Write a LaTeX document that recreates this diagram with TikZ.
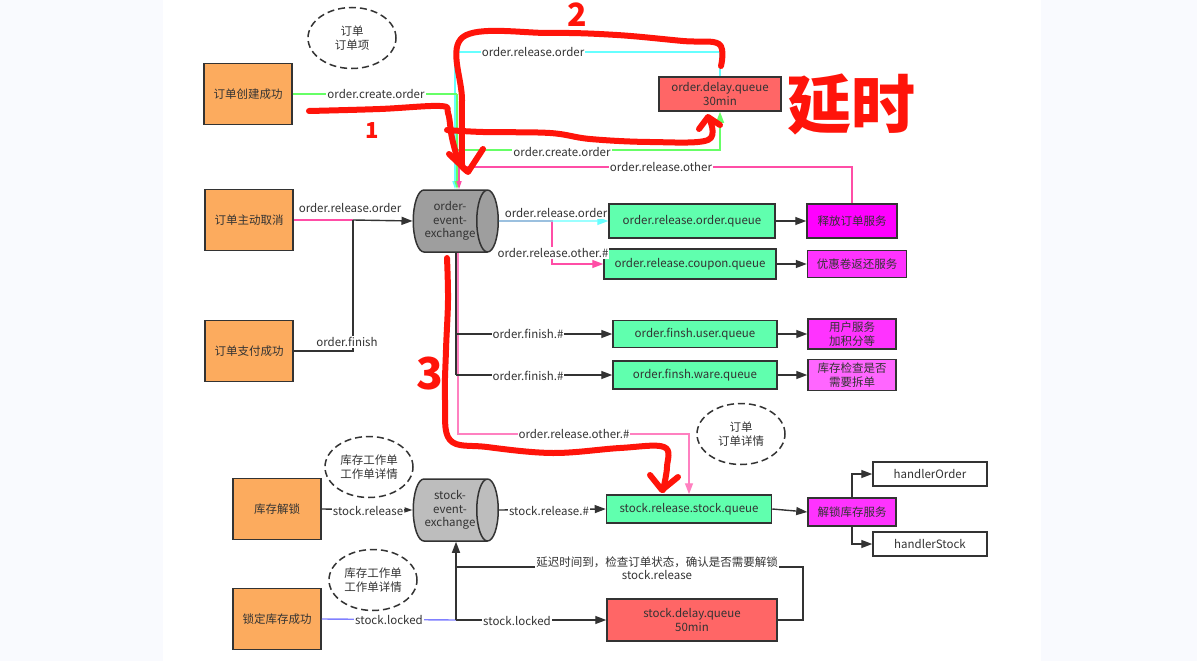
\documentclass[tikz,border=0pt]{standalone}
\usepackage{fontspec}
\setmainfont{Noto Sans CJK SC}
\usetikzlibrary{shapes.geometric,arrows.meta,calc}
\definecolor{panelbg}{RGB}{249,250,254}
\definecolor{linegray}{RGB}{51,51,51}
\definecolor{boxorange}{RGB}{252,171,94}
\definecolor{queuegreen}{RGB}{96,255,174}
\definecolor{queuered}{RGB}{255,102,102}
\definecolor{svcmag}{RGB}{255,0,255}
\definecolor{svcmagb}{RGB}{255,51,255}
\definecolor{svcmagc}{RGB}{255,102,255}
\definecolor{exgray}{RGB}{158,158,158}
\definecolor{exgraylt}{RGB}{189,189,189}
\definecolor{lgreen}{RGB}{102,255,102}
\definecolor{lcyan}{RGB}{102,255,255}
\definecolor{lpink}{RGB}{255,77,166}
\definecolor{lpinklt}{RGB}{255,128,192}
\definecolor{lblue}{RGB}{128,128,255}
\definecolor{penred}{RGB}{255,20,10}
\tikzset{
  every node/.style={font=\fontsize{11.5}{13.5}\selectfont, text=linegray},
  src/.style={rectangle, draw=linegray, line width=1.5pt, fill=boxorange, minimum width=88pt, minimum height=61pt},
  queue/.style={rectangle, draw=linegray, line width=1.5pt, fill=queuegreen, minimum height=28pt, inner sep=0pt, align=center},
  delayq/.style={queue, fill=queuered},
  svc/.style={rectangle, draw=linegray, line width=1.5pt, fill=svcmagb, minimum height=28pt, inner sep=0pt, align=center},
  handler/.style={rectangle, draw=linegray, line width=1.5pt, fill=white, minimum width=114pt, minimum height=24pt},
  exch/.style={cylinder, draw=linegray, line width=1.5pt, fill=exgray, minimum width=62pt, minimum height=85pt, shape aspect=0.55, inner sep=0pt, align=center},
  note/.style={ellipse, draw=linegray, dash pattern=on 7pt off 4pt, line width=1.5pt, minimum width=88pt, minimum height=61pt, inner sep=0pt, align=center, font=\fontsize{11.5}{14}\selectfont},
  lbl/.style={fill=white, inner sep=1pt},
  link/.style={draw=linegray, line width=1.4pt},
  arrowed/.style={-{Triangle[length=11pt,width=8pt]}},
  smallarrowed/.style={-{Triangle[length=8pt,width=5pt]}},
  penline/.style={draw=penred, line width=6pt, line cap=round, line join=round},
  pentext/.style={text=penred, font=\fontsize{40}{40}\selectfont\bfseries}
}
\begin{document}
\begin{tikzpicture}[x=1pt,y=-1pt]
  \useasboundingbox (0,0) rectangle (1197,661);
  \fill[panelbg] (0,0) rectangle (1197,661);
  \fill[white] (163,0) rectangle (1041,661);

  \node[src] (ocreate) at (248,94) {订单创建成功};
  \node[src] (ocancel) at (249,220) {订单主动取消};
  \node[src] (opay) at (249,351) {订单支付成功};
  \node[src] (sunlock) at (277,509) {库存解锁};
  \node[src] (slock) at (277,619) {锁定库存成功};

  \node[note] (nord) at (352,38) {订单\\订单项};
  \node[note] (nstocka) at (369,467) {库存工作单\\工作单详情};
  \node[note] (nstockb) at (373,580) {库存工作单\\工作单详情};
  \node[note] (norddet) at (741,434) {订单\\订单详情};

  \node[exch] (oex) at (450,221) {order-\\event-\\exchange};
  \node[exch, fill=exgraylt] (sex) at (450,510) {stock-\\event-\\exchange};

  \node[delayq, minimum width=122pt, minimum height=34pt] (odq) at (720,94) {order.delay.queue\\30min};
  \node[queue, minimum width=166pt, minimum height=34pt] (orq) at (692,221) {order.release.order.queue};
  \node[queue, minimum width=172pt, minimum height=30pt] (ocq) at (690,264) {order.release.coupon.queue};
  \node[queue, minimum width=164pt, minimum height=27pt] (ouq) at (695,334) {order.finsh.user.queue};
  \node[queue, minimum width=164pt, minimum height=28pt] (owq) at (695,375) {order.finsh.ware.queue};
  \node[queue, minimum width=165pt, minimum height=28pt] (ssq) at (689,509) {stock.release.stock.queue};
  \node[delayq, minimum width=170pt, minimum height=42pt] (sdq) at (692,620) {stock.delay.queue\\50min};

  \node[svc, fill=svcmag, minimum width=90pt, minimum height=34pt] (orsvc) at (852,221) {释放订单服务};
  \node[svc, minimum width=99pt, minimum height=27pt] (cpsvc) at (857,264) {优惠卷返还服务};
  \node[svc, minimum width=88pt, minimum height=30pt] (usvc) at (852,334) {用户服务\\加积分等};
  \node[svc, fill=svcmagc, minimum width=88pt, minimum height=31pt] (wsvc) at (852,375) {库存检查是否\\需要拆单};
  \node[svc, minimum width=88pt, minimum height=28pt] (ulsvc) at (852,512) {解锁库存服务};

  \node[handler] (hord) at (930,474) {handlerOrder};
  \node[handler] (hstk) at (930,544) {handlerStock};

  \coordinate (cj) at (455,52);
  \coordinate (gj) at (457,94);
  \coordinate (gk) at (457,150);
  \coordinate (pj) at (459,167);
  \coordinate (cnj) at (353,220);
  \coordinate (pk) at (552,264);
  \coordinate (fj) at (456,375);
  \coordinate (plj) at (458,434);
  \coordinate (plk) at (689,434);
  \coordinate (lj) at (456,620);
  \coordinate (rj) at (803,567);

  \draw[link, draw=lcyan, smallarrowed] (odq.north) |- (cj) -- (cj |- oex.north);
  \draw[link, draw=lgreen] (ocreate.east) -- (gj);
  \draw[link, draw=lgreen, smallarrowed] (gj) -- (gj |- oex.north);
  \draw[link, draw=lgreen, arrowed] (gk) -| (odq.south);
  \draw[link, draw=lpink, smallarrowed] (orsvc.north) |- (pj) -- (pj |- oex.north);

  \draw[link, draw=lpink] (ocancel.east) -- (cnj);
  \draw[link, arrowed] (cnj) -- (oex.west);
  \draw[link] (opay.east) -| (cnj);

  \draw[link, draw=lpink, arrowed] (oex.east) -| (pk) -- (ocq.west);
  \draw[link, draw=lcyan, arrowed] (oex.east) -- (orq.west);
  \draw[link, draw=lpinklt, arrowed] (plj |- oex.south) -- (plj) -- (plk) -- (plk |- ssq.north);
  \draw[link] (fj |- oex.south) -- (fj);
  \draw[link, arrowed] (fj |- ouq.west) -- (ouq.west);
  \draw[link, arrowed] (fj |- owq.west) -- (owq.west);

  \draw[link, arrowed] (orq.east) -- (orsvc.west);
  \draw[link, arrowed] (ocq.east) -- (cpsvc.west);
  \draw[link, arrowed] (ouq.east) -- (usvc.west);
  \draw[link, arrowed] (owq.east) -- (wsvc.west);

  \draw[link, smallarrowed] (sunlock.east) -- (sex.west);
  \draw[link, arrowed] (sex.east) -- (ssq.west);
  \draw[link, arrowed] (ssq.east) -- (ulsvc.west);
  \draw[link, arrowed] (ulsvc.north) |- (hord.west);
  \draw[link, arrowed] (ulsvc.south) |- (hstk.west);

  \draw[link, draw=lblue] (slock.east) -- (lj);
  \draw[link, arrowed] (lj) -- (lj |- sex.south);
  \draw[link, arrowed] (lj) -- (sdq.west);
  \draw[link] (sdq.east) -| (rj) -- (rj -| lj);

  \node[lbl] (lcreate) at (376,94) {order.create.order};
  \node[lbl] (lrelord) at (533,52) {order.release.order};
  \node[lbl] (lcreateb) at (562,152) {order.create.order};
  \node[lbl] (lrelother) at (661,167) {order.release.other};
  \node[lbl] (lcancel) at (350,208) {order.release.order};
  \node[lbl] (lfinish) at (347,342) {order.finish};
  \node[lbl] (lrelordq) at (556,213) {order.release.order};
  \node[lbl] (lrelothq) at (553,253) {order.release.other.\#};
  \node[lbl] (lfinusr) at (528,334) {order.finish.\#};
  \node[lbl] (lfinware) at (528,376) {order.finish.\#};
  \node[lbl] (lrelothstk) at (574,434) {order.release.other.\#};
  \node[lbl] (lstkrel) at (368,511) {stock.release};
  \node[lbl] (lstkrelq) at (549,511) {stock.release.\#};
  \node[lbl] (llockeda) at (389,620) {stock.locked};
  \node[lbl] (llockedb) at (517,621) {stock.locked};
  \node[lbl, align=center] (ldelay) at (657,568) {延迟时间到，检查订单状态，确认是否需要解锁\\stock.release};

  \draw[penline] plot[smooth, tension=0.6] coordinates {(309,111) (380,109) (440,106) (448,113) (452,138) (459,162) (467,171)};
  \draw[penline] (449,154) -- (468,172) -- (483,149);
  \draw[penline] plot[smooth, tension=0.6] coordinates {(462,165) (462,100) (463,37) (550,33) (617,35) (683,41) (719,44) (721,66)};
  \draw[penline] plot[smooth, tension=0.6] coordinates {(447,130) (483,132) (550,133) (590,139) (650,142) (708,140) (709,118)};
  \draw[penline] (699,129) -- (708,117) -- (720,125);
  \draw[penline] plot[smooth, tension=0.6] coordinates {(447,258) (448,300) (446,350) (445,400) (450,440) (487,447) (553,453) (620,448) (664,447) (667,467) (663,490)};
  \draw[penline] (650,475) -- (662,490) -- (678,477);
  \node[pentext, font=\fontsize{22}{22}\selectfont\bfseries] (numa) at (372,131) {1};
  \node[pentext, font=\fontsize{32}{32}\selectfont\bfseries] (numb) at (577,15) {2};
  \node[pentext, font=\fontsize{44}{44}\selectfont\bfseries] (numc) at (430,374) {3};
  \node[pentext, font=\fontsize{64}{64}\selectfont\bfseries] (delayword) at (851,104) {延时};
\end{tikzpicture}
\end{document}
